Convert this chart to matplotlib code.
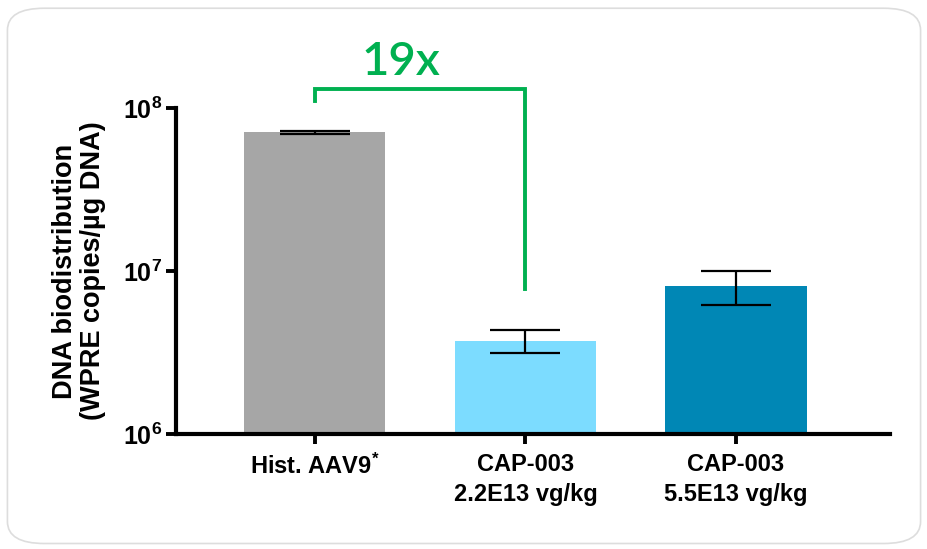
import numpy as np
import matplotlib.pyplot as plt
from matplotlib.patches import FancyBboxPatch

plt.rcParams['font.family'] = ['Liberation Sans', 'DejaVu Sans']
plt.rcParams['mathtext.fontset'] = 'custom'
plt.rcParams['mathtext.rm'] = 'Liberation Sans:bold'
plt.rcParams['mathtext.it'] = 'Liberation Sans:bold'
plt.rcParams['mathtext.bf'] = 'Liberation Sans:bold'

groups = ['Hist. AAV9$^{*}$', 'CAP-003\n2.2E13 vg/kg', 'CAP-003\n5.5E13 vg/kg']
means = [7.13e7, 3.72e6, 8.1e6]
errs = [1.5e6, 0.6e6, 1.9e6]
colors = ['#A6A6A6', '#7CDCFF', '#0087B5']
fold_label = '19x'

fig = plt.figure(figsize=(9.28, 5.49), dpi=100)

# rounded card outline around the chart
card = FancyBboxPatch((0.008, 0.01), 0.984, 0.975,
                      boxstyle='round,pad=0,rounding_size=0.04',
                      transform=fig.transFigure, facecolor='none',
                      edgecolor='#DDDDDD', linewidth=1.2, zorder=-1)
fig.patches.append(card)

ax = fig.add_axes([0.1897, 0.2095, 0.769, 0.5935])
ax.patch.set_alpha(0)
x = np.arange(len(groups))
ax.bar(x, means, width=0.67, color=colors, zorder=2)
ax.errorbar(x, means, yerr=errs, fmt='none', ecolor='black', elinewidth=1.6,
            capsize=25, capthick=1.6, zorder=3)

ax.set_yscale('log')
ax.set_ylim(1e6, 1e8)
ax.set_xlim(-0.66, 2.73)
ax.set_yticks([1e6, 1e7, 1e8])
ax.set_yticklabels(['$10^{6}$', '$10^{7}$', '$10^{8}$'], fontsize=18)
ax.yaxis.set_minor_locator(plt.NullLocator())
ax.set_xticks(x)
ax.set_xticklabels(groups, fontsize=17, fontweight='bold', linespacing=1.35)
ax.tick_params(axis='both', length=7, width=2.8, pad=3)
ax.tick_params(axis='x', pad=7)
ax.set_ylabel('DNA biodistribution\n(WPRE copies/µg DNA)', fontsize=19.5,
              fontweight='bold', labelpad=12, linespacing=1.1)

for side in ['top', 'right']:
    ax.spines[side].set_visible(False)
for side in ['left', 'bottom']:
    ax.spines[side].set_linewidth(3)

# fold-change bracket
green = '#00B050'
ax.plot([0, 0, 1, 1], [1.1e8, 1.31e8, 1.31e8, 0.78e7], color=green,
        linewidth=2.8, clip_on=False, solid_joinstyle='miter', zorder=4)
ax.text(0.41, 1.6e8, fold_label, color=green, fontsize=34, family='Lato',
        fontweight='semibold', ha='center', va='baseline', clip_on=False)

fig.savefig('out.png', dpi=100)
